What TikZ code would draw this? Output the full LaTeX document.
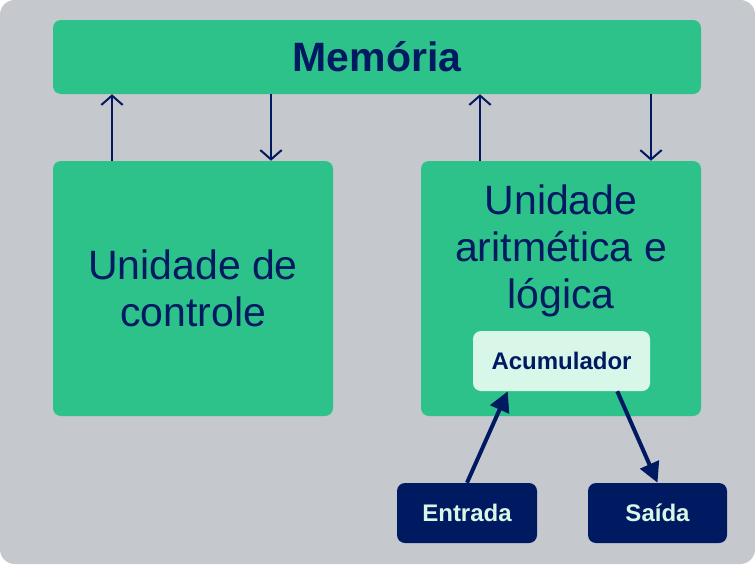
\documentclass[tikz,border=0pt]{standalone}
\usepackage{fontspec}
\setmainfont{Liberation Sans}
\usetikzlibrary{arrows.meta,calc,positioning}
\definecolor{fundo}{HTML}{C5C8CD}
\definecolor{verde}{HTML}{2EC28B}
\definecolor{azul}{HTML}{001A62}
\definecolor{menta}{HTML}{D8F7E9}
\newcommand\fontegrande{\fontsize{30.75}{35.25}\selectfont}
\newcommand\fontepequena{\fontsize{18}{21}\selectfont\bfseries}
\begin{document}
\begin{tikzpicture}[x=0.75pt,y=-0.75pt,
	bloco/.style={fill=verde, rounded corners=6pt, inner sep=0pt, text=azul, align=center, font=\fontegrande},
	registo/.style={fill=menta, rounded corners=6pt, inner sep=0pt, text=azul, font=\fontepequena},
	porta/.style={fill=azul, rounded corners=6pt, inner sep=0pt, text=menta, font=\fontepequena},
	seta/.style={draw=azul, line width=1.5pt, -{Straight Barb[length=7pt,width=16pt]}},
	setagrossa/.style={draw=azul, line width=3pt, -{Triangle[length=15pt,width=15pt]}}]
			% o fundo
			\fill[fundo, rounded corners=11pt] (0,0) rectangle (755,564);
			\useasboundingbox (0,0) rectangle (755,564);
			% os blocos
			\node[bloco, minimum width=486pt, minimum height=55.5pt, font=\fontsize{30.75}{35.25}\selectfont\bfseries] (mem) at (377,57) {Memória};
			\node[bloco, minimum width=210pt, minimum height=191.25pt] (uc) at (193,288.5) {Unidade de\\controle};
			\node[bloco, minimum width=210pt, minimum height=191.25pt] (ula) at (561,288.5) {};
			\node[bloco, fill=none, anchor=north, below=18pt of ula.north] (ulatxt) {Unidade\\aritmética e\\lógica};
			% o acumulador, a entrada e a saída
			\node[registo, minimum width=132.75pt, minimum height=45pt] (acc) at (561.5,361) {Acumulador};
			\node[porta, minimum width=105pt, minimum height=45pt] (ent) at (467,513) {Entrada};
			\node[porta, minimum width=104.25pt, minimum height=45pt] (sai) at (657.5,513) {Saída};
			% as setas da memória
			\coordinate (c1) at (112,0);
			\coordinate (c2) at (271,0);
			\coordinate (c3) at (480,0);
			\coordinate (c4) at (651,0);
			\draw[seta] (c1 |- uc.north) -- (c1 |- mem.south);
			\draw[seta] (c2 |- mem.south) -- (c2 |- uc.north);
			\draw[seta] (c3 |- ula.north) -- (c3 |- mem.south);
			\draw[seta] (c4 |- mem.south) -- (c4 |- ula.north);
			% entrada e saída
			\draw[setagrossa] (ent.north) -- ($(acc.south west)+(35,0)$);
			\draw[setagrossa] ($(acc.south east)+(-33,0)$) -- (sai.north);
		\end{tikzpicture}
\end{document}
